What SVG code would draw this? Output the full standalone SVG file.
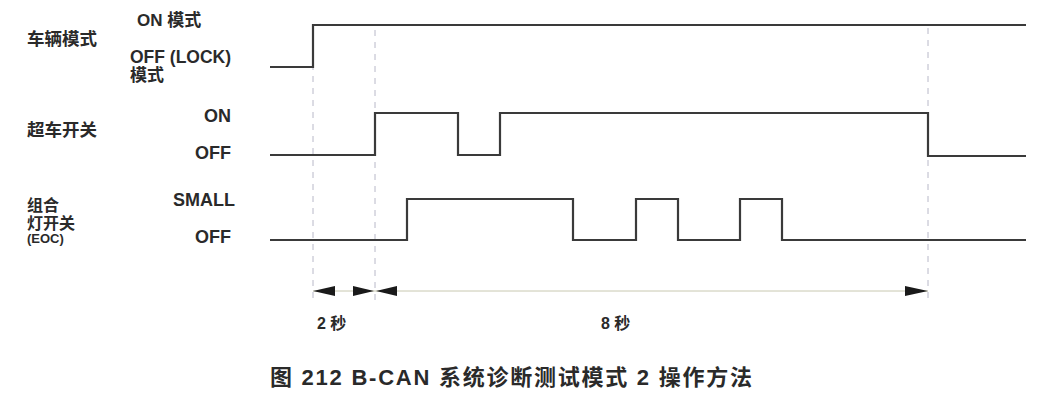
<svg xmlns="http://www.w3.org/2000/svg" width="1038" height="400" viewBox="0 0 1038 400">
<style>
.lbl{font-family:"Liberation Sans","Noto Sans CJK SC",sans-serif;font-weight:bold;fill:#2a2a2a}
.sig{fill:none;stroke:#3a3a3a;stroke-width:2.2;stroke-linejoin:miter}
.guide{stroke:#b8b8c8;stroke-width:1;stroke-dasharray:6 6;fill:none}
.dim{stroke:#c8c8b0;stroke-width:1;fill:none}
.head{fill:#1a1a1a}
</style>
<rect width="1038" height="400" fill="#ffffff"/>
<g id="connectors">
  <line class="guide" x1="313" y1="28" x2="313" y2="300"/>
  <line class="guide" x1="375" y1="30" x2="375" y2="300"/>
  <line class="guide" x1="928" y1="28" x2="928" y2="300"/>
  <line class="dim" x1="313" y1="291" x2="928" y2="291"/>
  <polygon class="head" points="313,291 335,286 335,296"/>
  <polygon class="head" points="374,291 353,286 353,296"/>
  <polygon class="head" points="376,291 397,286 397,296"/>
  <polygon class="head" points="928,291 905,286 905,296"/>
</g>
<g id="vehicle-mode">
  <text class="lbl" x="27" y="45" font-size="17.5">车辆模式</text>
  <text class="lbl" x="137" y="26" font-size="17">ON 模式</text>
  <text class="lbl" x="130" y="63" font-size="17.5">OFF (LOCK)</text>
  <text class="lbl" x="130" y="81" font-size="17">模式</text>
  <polyline class="sig" points="270,67 313,67 313,25 1026,25"/>
</g>
<g id="passing-switch">
  <text class="lbl" x="27" y="136" font-size="17.5">超车开关</text>
  <text class="lbl" x="231" y="122" font-size="18" text-anchor="end">ON</text>
  <text class="lbl" x="231" y="159" font-size="18" text-anchor="end">OFF</text>
  <polyline class="sig" points="270,155 375,155 375,113 458,113 458,155 500,155 500,113 928,113 928,156 1026,156"/>
</g>
<g id="combination-light-switch">
  <text class="lbl" x="27" y="211" font-size="16">组合</text>
  <text class="lbl" x="27" y="229" font-size="16">灯开关</text>
  <text class="lbl" x="27" y="243" font-size="13">(EOC)</text>
  <text class="lbl" x="235" y="206" font-size="18" text-anchor="end">SMALL</text>
  <text class="lbl" x="231" y="243" font-size="18" text-anchor="end">OFF</text>
  <polyline class="sig" points="270,240 407,240 407,199 573,199 573,240 636,240 636,199 678,199 678,240 740,240 740,199 782,199 782,240 1026,240"/>
</g>
<g id="time-labels">
  <text class="lbl" x="317" y="329" font-size="16">2 秒</text>
  <text class="lbl" x="601" y="329" font-size="16">8 秒</text>
</g>
<g id="caption">
  <text class="lbl" x="270" y="385" font-size="22" textLength="482" lengthAdjust="spacing">图 212  B-CAN 系统诊断测试模式 2 操作方法</text>
</g>
</svg>
